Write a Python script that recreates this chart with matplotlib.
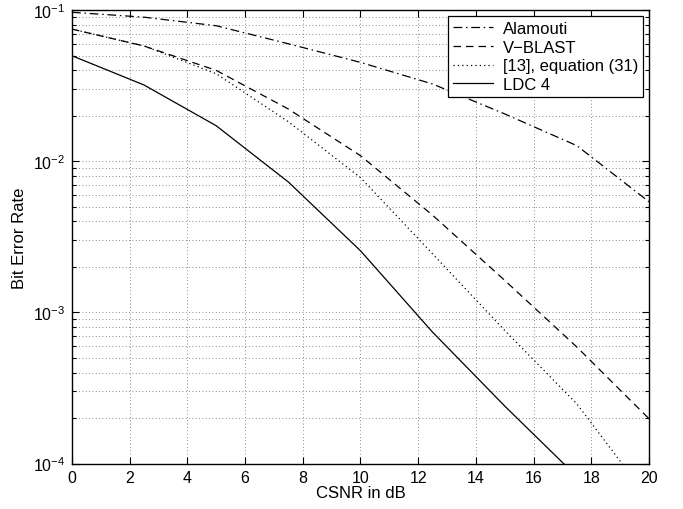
import matplotlib
matplotlib.use("Agg")
import matplotlib.pyplot as plt
from matplotlib.ticker import LogLocator, MultipleLocator, NullFormatter

plt.rcParams['font.family'] = ['Liberation Sans', 'DejaVu Sans']
plt.rcParams['mathtext.fontset'] = 'custom'
plt.rcParams['mathtext.rm'] = 'Liberation Sans'
plt.rcParams['mathtext.it'] = 'Liberation Sans:italic'

# CSNR points (dB) and bit error rates for each scheme
csnr = [0, 2.5, 5, 7.5, 10, 12.5, 15, 17.5, 20]
ber_alamouti = [0.097, 0.090, 0.079, 0.060, 0.0452, 0.0325, 0.0206, 0.0127, 0.0054]
ber_vblast = [0.075, 0.058, 0.040, 0.0222, 0.0109, 0.0044, 0.00163, 0.00059, 0.000198]
ber_eq31 = [0.075, 0.058, 0.038, 0.0183, 0.0078, 0.00244, 0.00076, 0.000248, 0.000058]
ber_ldc4 = [0.050, 0.032, 0.0172, 0.0073, 0.00256, 0.00074, 0.00024, 0.000082, 0.000028]

labels = ['Alamouti', 'V\u2212BLAST', '[13], equation (31)', 'LDC 4']

fig = plt.figure(figsize=(6.83, 5.10), dpi=100)
ax = fig.add_axes([0.1054, 0.0892, 0.8448, 0.8887])

lw = 0.9
ax.semilogy(csnr, ber_alamouti, color='k', lw=lw, linestyle=(0, (7, 3, 1.2, 3)), label=labels[0])
ax.semilogy(csnr, ber_vblast, color='k', lw=lw, linestyle=(0, (6, 4)), label=labels[1])
ax.semilogy(csnr, ber_eq31, color='k', lw=lw, linestyle=(0, (1, 2.5)), label=labels[2])
ax.semilogy(csnr, ber_ldc4, color='k', lw=lw, linestyle='-', label=labels[3])

ax.set_xlim(0, 20)
ax.set_ylim(1e-4, 1e-1)
ax.xaxis.set_major_locator(MultipleLocator(2))
ax.yaxis.set_major_locator(LogLocator(base=10, numticks=10))
ax.yaxis.set_minor_locator(LogLocator(base=10, subs=range(2, 10), numticks=20))
ax.yaxis.set_minor_formatter(NullFormatter())

ax.grid(True, which='major', axis='both', color='0.4', linestyle=(0, (1, 3)), lw=0.6)
ax.grid(True, which='minor', axis='y', color='0.4', linestyle=(0, (1, 3)), lw=0.6)

ax.tick_params(which='both', direction='in', top=True, right=True, labelsize=11.5, width=0.8)
ax.tick_params(which='major', length=5, pad=5)
ax.tick_params(which='minor', length=3)
for s in ax.spines.values():
    s.set_linewidth(1.0)

ax.set_xlabel('CSNR in dB', fontsize=12, labelpad=0)
ax.set_ylabel('Bit Error Rate', fontsize=12, labelpad=4)

leg = ax.legend(loc='upper right', fontsize=12, frameon=True, fancybox=False,
                edgecolor='k', framealpha=1, borderaxespad=0.35, handlelength=2.4,
                labelspacing=0.22, borderpad=0.3, handletextpad=0.6)
leg.get_frame().set_linewidth(0.9)

fig.savefig('out.png', dpi=100)
